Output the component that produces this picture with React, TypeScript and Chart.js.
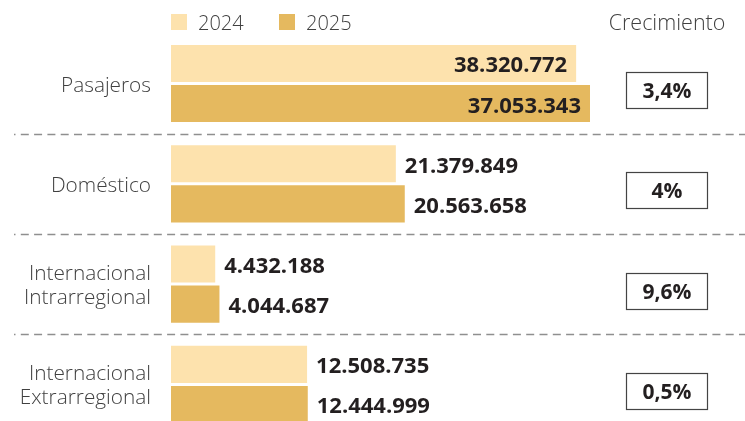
import React, { useEffect, useRef } from "react";
import { Chart, registerables } from "chart.js";

Chart.register(...registerables);

// ---- data ----
const categories: string[][] = [
  ["Pasajeros"],
  ["Doméstico"],
  ["Internacional", "Intrarregional"],
  ["Internacional", "Extrarregional"],
];
const seriesNames = ["2024", "2025"];
const values2024 = [37053343, 20563658, 4044687, 12444999];
const values2025 = [38320772, 21379849, 4432188, 12508735];
// value labels as printed next to each bar
const labels2024 = ["38.320.772", "21.379.849", "4.432.188", "12.508.735"];
const labels2025 = ["37.053.343", "20.563.658", "4.044.687", "12.444.999"];
const growth = ["3,4%", "4%", "9,6%", "0,5%"];
const growthTitle = "Crecimiento";

const colors = ["#FDE2AD", "#E5B95F"];
const LIGHT_FONT = "'Open Sans', 'Noto Sans', sans-serif";

const overlay = {
  id: "overlay",
  beforeDatasetsDraw(chart: any) {
    const ctx = chart.ctx;
    const y = chart.scales.y;
    ctx.save();
    ctx.strokeStyle = "#8f8f8f";
    ctx.lineWidth = 1.7;
    ctx.setLineDash([8, 5.3]);
    ctx.lineDashOffset = 6.5;
    for (let i = 0; i < categories.length - 1; i++) {
      const yy = Math.round((y.getPixelForValue(i) + y.getPixelForValue(i + 1)) / 2) + 0.5;
      ctx.beginPath();
      ctx.moveTo(14, yy);
      ctx.lineTo(chart.width, yy);
      ctx.stroke();
    }
    ctx.restore();
  },
  afterDatasetsDraw(chart: any) {
    const ctx = chart.ctx;
    const y = chart.scales.y;
    ctx.save();

    // legend
    ctx.font = `300 20px ${LIGHT_FONT}`;
    ctx.textBaseline = "alphabetic";
    ctx.textAlign = "left";
    const legendX = [171, 279];
    chart.data.datasets.forEach((ds: any, d: number) => {
      ctx.fillStyle = ds.backgroundColor;
      ctx.fillRect(legendX[d], 14, 16, 16);
      ctx.fillStyle = "#404040";
      ctx.fillText(ds.label, legendX[d] + 27, 29.5);
    });

    // growth header
    ctx.font = `300 21.5px ${LIGHT_FONT}`;
    ctx.textAlign = "center";
    ctx.fillText(growthTitle, 667, 29.5);

    // category labels
    ctx.font = `300 20.8px ${LIGHT_FONT}`;
    ctx.textAlign = "right";
    ctx.fillStyle = "#404040";
    categories.forEach((lines, i) => {
      const c = y.getPixelForValue(i);
      lines.forEach((ln, k) => {
        const by = c + 8 + (k - (lines.length - 1) / 2) * 24;
        ctx.fillText(ln, 151, by);
      });
    });

    // value labels
    ctx.font = `700 22px ${LIGHT_FONT}`;
    ctx.fillStyle = "#231F20";
    const allLabels = [labels2024, labels2025];
    chart.data.datasets.forEach((_ds: any, d: number) => {
      const meta = chart.getDatasetMeta(d);
      meta.data.forEach((bar: any, i: number) => {
        const txt = allLabels[d][i];
        const w = ctx.measureText(txt).width;
        const by = bar.y + 9;
        if (bar.x + 9 + w > 620) {
          ctx.textAlign = "right";
          ctx.fillText(txt, bar.x - 9, by);
        } else {
          ctx.textAlign = "left";
          ctx.fillText(txt, bar.x + 9, by);
        }
      });
    });

    // growth boxes
    ctx.font = `700 21px ${LIGHT_FONT}`;
    ctx.textAlign = "center";
    growth.forEach((g, i) => {
      const cy = y.getPixelForValue(i) + 7;
      ctx.strokeStyle = "#444444";
      ctx.lineWidth = 1.2;
      ctx.strokeRect(626.5, Math.round(cy - 18.5) + 0.5, 81, 36);
      ctx.fillStyle = "#231F20";
      ctx.fillText(g, 667, cy + 7.5);
    });

    ctx.restore();
  },
};

export default function App() {
  const ref = useRef<HTMLCanvasElement>(null);
  useEffect(() => {
    if (!ref.current) return;
    const chart = new Chart(ref.current, {
      type: "bar",
      data: {
        labels: categories,
        datasets: [
          { label: seriesNames[0], data: values2024, backgroundColor: colors[0] },
          { label: seriesNames[1], data: values2025, backgroundColor: colors[1] },
        ],
      },
      options: {
        indexAxis: "y",
        responsive: false,
        animation: false,
        events: [],
        layout: { padding: { left: 171, right: 27.3, top: 33.35, bottom: 5.45 } },
        datasets: { bar: { categoryPercentage: 0.8, barPercentage: 0.925, borderWidth: 0 } },
        scales: {
          x: { display: false, min: 0, max: 50000000 },
          y: { display: false, offset: true },
        },
        plugins: { legend: { display: false }, tooltip: { enabled: false }, title: { display: false } },
      },
      plugins: [overlay],
    } as any);
    return () => chart.destroy();
  }, []);
  return (
    <div style={{ position: "fixed", left: 0, top: 0, width: 745, height: 440, background: "#fff" }}>
      <canvas ref={ref} width={745} height={440} style={{ width: 745, height: 440, display: "block" }} />
    </div>
  );
}
